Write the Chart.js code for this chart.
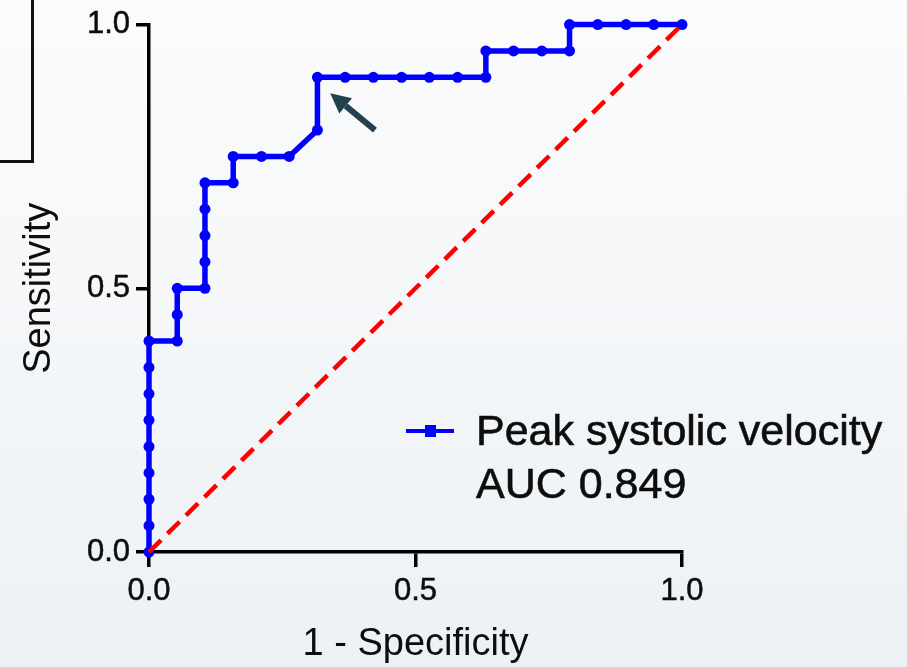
<!doctype html>
<html lang="en">
<head>
    <meta charset="UTF-8">
    <script src="https://cdn.jsdelivr.net/npm/chart.js"></script>
    <title>ROC curve - Peak systolic velocity</title>
    <style>
        html, body { margin: 0; padding: 0; }
        body {
            width: 907px; height: 667px; overflow: hidden; position: relative;
            background: linear-gradient(to bottom, #fbfbfc 0%, #f5f7f9 45%, #ebf1f5 100%);
        }
        #chart { position: absolute; left: 0; top: 0; }
        .frame {
            position: absolute; left: 0; top: 0; width: 31px; height: 160px;
            border-right: 3px solid #111; border-bottom: 3px solid #111;
        }
    </style>
</head>
<body>
    <div class="frame"></div>
    <canvas id="chart" width="907" height="667"></canvas>
<script>
// 1 - specificity / sensitivity
const fpr = [0, 0, 0, 0, 0, 0, 0, 0, 0,
    0.053, 0.053, 0.053,
    0.105, 0.105, 0.105, 0.105, 0.105,
    0.158, 0.158,
    0.211, 0.263,
    0.316, 0.316,
    0.368, 0.421, 0.474, 0.526, 0.579, 0.632,
    0.632, 0.684, 0.737, 0.789,
    0.789, 0.842, 0.895, 0.947, 1.0];
const tpr = [0, 0.05, 0.10, 0.15, 0.20, 0.25, 0.30, 0.35, 0.40,
    0.40, 0.45, 0.50,
    0.50, 0.55, 0.60, 0.65, 0.70,
    0.70, 0.75,
    0.75, 0.75,
    0.80, 0.90,
    0.90, 0.90, 0.90, 0.90, 0.90, 0.90,
    0.95, 0.95, 0.95, 0.95,
    1.0, 1.0, 1.0, 1.0, 1.0];

// chance line
const diagX = [0, 1];
const diagY = [0, 1];

const xTicks = [0, 0.5, 1.0];
const yTicks = [0, 0.5, 1.0];

const legendLabels = ['Peak systolic velocity', 'AUC 0.849'];

// arrow pointing at the chosen cut-off (data units)
const arrowTip = [0.34, 0.87];
const arrowTail = [0.424, 0.80];

const family = '"Liberation Sans", Arial, sans-serif';
const ink = '#0d0d0d';

const extras = {
    id: 'extras',
    afterDatasetsDraw(chart) {
        const {ctx, scales: {x, y}} = chart;
        // arrow
        const tx = x.getPixelForValue(arrowTip[0]), ty = y.getPixelForValue(arrowTip[1]);
        const sx = x.getPixelForValue(arrowTail[0]), sy = y.getPixelForValue(arrowTail[1]);
        const ang = Math.atan2(ty - sy, tx - sx);
        const headLen = 20, headW = 10;
        const bx = tx - headLen * Math.cos(ang), by = ty - headLen * Math.sin(ang);
        ctx.save();
        ctx.strokeStyle = '#23404f';
        ctx.fillStyle = '#23404f';
        ctx.lineWidth = 6;
        ctx.beginPath();
        ctx.moveTo(sx, sy);
        ctx.lineTo(bx, by);
        ctx.stroke();
        ctx.beginPath();
        ctx.moveTo(tx, ty);
        ctx.lineTo(bx + headW * Math.sin(ang), by - headW * Math.cos(ang));
        ctx.lineTo(bx - headW * Math.sin(ang), by + headW * Math.cos(ang));
        ctx.closePath();
        ctx.fill();
        ctx.restore();
    },
    afterDraw(chart) {
        const ctx = chart.ctx;
        ctx.save();
        // legend sample
        ctx.strokeStyle = '#0000ff';
        ctx.lineWidth = 4;
        ctx.beginPath();
        ctx.moveTo(406, 431);
        ctx.lineTo(454, 431);
        ctx.stroke();
        ctx.fillStyle = '#0000ff';
        ctx.fillRect(425, 425, 11, 12);
        // legend text
        ctx.fillStyle = ink;
        ctx.strokeStyle = ink;
        ctx.lineWidth = 0.6;
        ctx.font = '43px ' + family;
        ctx.textBaseline = 'alphabetic';
        ctx.textAlign = 'left';
        legendLabels.forEach((t, i) => {
            ctx.fillText(t, 476, 445 + i * 53);
            ctx.strokeText(t, 476, 445 + i * 53);
        });
        ctx.restore();
    }
};

new Chart(document.getElementById('chart').getContext('2d'), {
    type: 'scatter',
    data: {
        datasets: [{
            label: 'Reference line',
            data: diagX.map((v, i) => ({x: v, y: diagY[i]})),
            showLine: true,
            borderColor: '#ff0000',
            borderWidth: 4.5,
            borderDash: [17, 9],
            pointRadius: 0,
            clip: false
        }, {
            label: legendLabels[0],
            data: fpr.map((v, i) => ({x: v, y: tpr[i]})),
            showLine: true,
            borderColor: '#0000ff',
            backgroundColor: '#0000ff',
            borderWidth: 5.5,
            pointRadius: 5.5,
            pointBorderWidth: 0,
            clip: false
        }]
    },
    options: {
        responsive: false,
        animation: false,
        layout: {padding: {top: 21, right: 225, left: 0, bottom: 0}},
        plugins: {legend: {display: false}, tooltip: {enabled: false}},
        scales: {
            x: {
                type: 'linear', min: 0, max: 1,
                afterFit(s) { s.height = 115; },
                afterBuildTicks(s) { s.ticks = xTicks.map(v => ({value: v})); },
                ticks: {
                    font: {family, size: 31}, color: ink, padding: 6,
                    textStrokeColor: ink, textStrokeWidth: 0.5,
                    maxRotation: 0, autoSkip: false,
                    callback: v => v.toFixed(1)
                },
                grid: {drawOnChartArea: false, tickLength: 15, tickWidth: 3.5, tickColor: '#000', color: '#000', lineWidth: 3.5},
                border: {color: '#000', width: 3.5},
                title: {display: true, text: '1 - Specificity', color: ink, font: {family, size: 38}, padding: {top: 0, bottom: 0}}
            },
            y: {
                type: 'linear', min: 0, max: 1,
                afterFit(s) { s.width = 149; },
                afterBuildTicks(s) { s.ticks = yTicks.map(v => ({value: v})); },
                ticks: {
                    font: {family, size: 31}, color: ink, padding: 6,
                    textStrokeColor: ink, textStrokeWidth: 0.5,
                    autoSkip: false,
                    callback: v => v.toFixed(1)
                },
                grid: {drawOnChartArea: false, tickLength: 13, tickWidth: 3.5, tickColor: '#000', color: '#000', lineWidth: 3.5},
                border: {color: '#000', width: 3.5},
                title: {display: true, text: 'Sensitivity', color: ink, font: {family, size: 38}, padding: {top: 17, bottom: 0}}
            }
        }
    },
    plugins: [extras]
});
</script>
</body>
</html>
